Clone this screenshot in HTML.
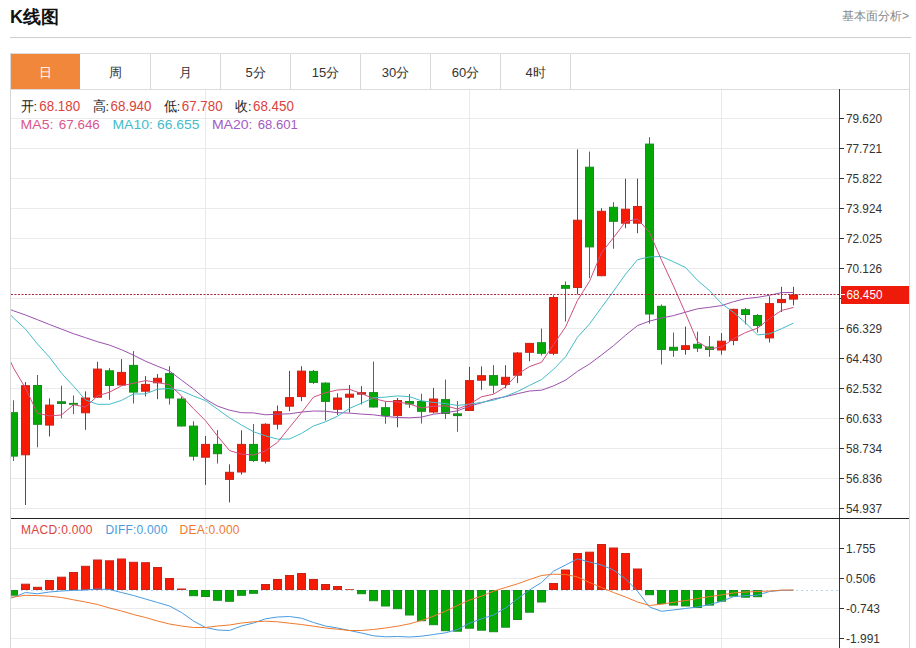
<!DOCTYPE html><html><head><meta charset="utf-8"><style>html,body{margin:0;padding:0;background:#fff;}svg{display:block;}text{font-family:"Liberation Sans", sans-serif;}</style></head><body>
<svg width="916" height="648" viewBox="0 0 916 648">
<defs><clipPath id="cp"><rect x="11" y="90" width="828" height="428"/></clipPath><clipPath id="cm"><rect x="11" y="519" width="828" height="129"/></clipPath></defs>
<text x="10" y="23" font-size="18" font-weight="bold" fill="#111">K线图</text>
<text x="909" y="20" font-size="12" fill="#888" text-anchor="end">基本面分析&gt;</text>
<rect x="10" y="37" width="901" height="1" fill="#CFCFCF"/>
<rect x="10" y="53" width="900" height="1" fill="#DCDCDC"/>
<rect x="10" y="89" width="900" height="1" fill="#DCDCDC"/>
<rect x="11" y="54" width="69" height="35" fill="#F0873A"/>
<text x="45.5" y="77" font-size="13" fill="#fff" text-anchor="middle">日</text>
<text x="115.5" y="77" font-size="13" fill="#333" text-anchor="middle">周</text>
<rect x="150" y="54" width="1" height="35" fill="#D8D8D8"/>
<text x="185.5" y="77" font-size="13" fill="#333" text-anchor="middle">月</text>
<rect x="220" y="54" width="1" height="35" fill="#D8D8D8"/>
<text x="255.5" y="77" font-size="13" fill="#333" text-anchor="middle">5分</text>
<rect x="290" y="54" width="1" height="35" fill="#D8D8D8"/>
<text x="325.5" y="77" font-size="13" fill="#333" text-anchor="middle">15分</text>
<rect x="360" y="54" width="1" height="35" fill="#D8D8D8"/>
<text x="395.5" y="77" font-size="13" fill="#333" text-anchor="middle">30分</text>
<rect x="430" y="54" width="1" height="35" fill="#D8D8D8"/>
<text x="465.5" y="77" font-size="13" fill="#333" text-anchor="middle">60分</text>
<rect x="500" y="54" width="1" height="35" fill="#D8D8D8"/>
<text x="535.5" y="77" font-size="13" fill="#333" text-anchor="middle">4时</text>
<rect x="570" y="54" width="1" height="35" fill="#D8D8D8"/>
<rect x="10" y="53" width="1" height="595" fill="#D8D8D8"/>
<rect x="909" y="53" width="1" height="595" fill="#D8D8D8"/>
<rect x="11" y="118" width="828" height="1" fill="#EBEBEB"/>
<rect x="11" y="148" width="828" height="1" fill="#EBEBEB"/>
<rect x="11" y="178" width="828" height="1" fill="#EBEBEB"/>
<rect x="11" y="208" width="828" height="1" fill="#EBEBEB"/>
<rect x="11" y="238" width="828" height="1" fill="#EBEBEB"/>
<rect x="11" y="268" width="828" height="1" fill="#EBEBEB"/>
<rect x="11" y="298" width="828" height="1" fill="#EBEBEB"/>
<rect x="11" y="328" width="828" height="1" fill="#EBEBEB"/>
<rect x="11" y="358" width="828" height="1" fill="#EBEBEB"/>
<rect x="11" y="388" width="828" height="1" fill="#EBEBEB"/>
<rect x="11" y="418" width="828" height="1" fill="#EBEBEB"/>
<rect x="11" y="448" width="828" height="1" fill="#EBEBEB"/>
<rect x="11" y="478" width="828" height="1" fill="#EBEBEB"/>
<rect x="11" y="508" width="828" height="1" fill="#EBEBEB"/>
<rect x="11" y="548" width="828" height="1" fill="#EBEBEB"/>
<rect x="11" y="578" width="828" height="1" fill="#EBEBEB"/>
<rect x="11" y="608" width="828" height="1" fill="#EBEBEB"/>
<rect x="11" y="638" width="828" height="1" fill="#EBEBEB"/>
<rect x="205" y="90" width="1" height="558" fill="#E6E9EE"/>
<rect x="469" y="90" width="1" height="558" fill="#E6E9EE"/>
<rect x="721" y="90" width="1" height="558" fill="#E6E9EE"/>
<rect x="839" y="89" width="1" height="559" fill="#333"/>
<rect x="11" y="518" width="898" height="1" fill="#222"/>
<rect x="840" y="118" width="4" height="1" fill="#333"/>
<text x="846" y="122.8" font-size="13" fill="#333" textLength="36" lengthAdjust="spacingAndGlyphs">79.620</text>
<rect x="840" y="148" width="4" height="1" fill="#333"/>
<text x="846" y="152.8" font-size="13" fill="#333" textLength="36" lengthAdjust="spacingAndGlyphs">77.721</text>
<rect x="840" y="178" width="4" height="1" fill="#333"/>
<text x="846" y="182.8" font-size="13" fill="#333" textLength="36" lengthAdjust="spacingAndGlyphs">75.822</text>
<rect x="840" y="208" width="4" height="1" fill="#333"/>
<text x="846" y="212.8" font-size="13" fill="#333" textLength="36" lengthAdjust="spacingAndGlyphs">73.924</text>
<rect x="840" y="238" width="4" height="1" fill="#333"/>
<text x="846" y="242.8" font-size="13" fill="#333" textLength="36" lengthAdjust="spacingAndGlyphs">72.025</text>
<rect x="840" y="268" width="4" height="1" fill="#333"/>
<text x="846" y="272.8" font-size="13" fill="#333" textLength="36" lengthAdjust="spacingAndGlyphs">70.126</text>
<rect x="840" y="298" width="4" height="1" fill="#333"/>
<rect x="840" y="328" width="4" height="1" fill="#333"/>
<text x="846" y="332.8" font-size="13" fill="#333" textLength="36" lengthAdjust="spacingAndGlyphs">66.329</text>
<rect x="840" y="358" width="4" height="1" fill="#333"/>
<text x="846" y="362.8" font-size="13" fill="#333" textLength="36" lengthAdjust="spacingAndGlyphs">64.430</text>
<rect x="840" y="388" width="4" height="1" fill="#333"/>
<text x="846" y="392.8" font-size="13" fill="#333" textLength="36" lengthAdjust="spacingAndGlyphs">62.532</text>
<rect x="840" y="418" width="4" height="1" fill="#333"/>
<text x="846" y="422.8" font-size="13" fill="#333" textLength="36" lengthAdjust="spacingAndGlyphs">60.633</text>
<rect x="840" y="448" width="4" height="1" fill="#333"/>
<text x="846" y="452.8" font-size="13" fill="#333" textLength="36" lengthAdjust="spacingAndGlyphs">58.734</text>
<rect x="840" y="478" width="4" height="1" fill="#333"/>
<text x="846" y="482.8" font-size="13" fill="#333" textLength="36" lengthAdjust="spacingAndGlyphs">56.836</text>
<rect x="840" y="508" width="4" height="1" fill="#333"/>
<text x="846" y="512.8" font-size="13" fill="#333" textLength="36" lengthAdjust="spacingAndGlyphs">54.937</text>
<rect x="840" y="548" width="4" height="1" fill="#333"/>
<text x="846" y="552.8" font-size="13" fill="#333" textLength="29.5" lengthAdjust="spacingAndGlyphs">1.755</text>
<rect x="840" y="578" width="4" height="1" fill="#333"/>
<text x="846" y="582.8" font-size="13" fill="#333" textLength="29.5" lengthAdjust="spacingAndGlyphs">0.506</text>
<rect x="840" y="608" width="4" height="1" fill="#333"/>
<text x="846" y="612.8" font-size="13" fill="#333" textLength="34" lengthAdjust="spacingAndGlyphs">-0.743</text>
<rect x="840" y="638" width="4" height="1" fill="#333"/>
<text x="846" y="642.8" font-size="13" fill="#333" textLength="34" lengthAdjust="spacingAndGlyphs">-1.991</text>
<g clip-path="url(#cp)">
<rect x="13" y="400.3" width="1" height="60.7" fill="#1F8C2C"/>
<rect x="9.5" y="412.7" width="8" height="43.4" fill="#03A805" stroke="#12901A" stroke-width="1"/>
<rect x="25" y="382.0" width="1" height="123.0" fill="#B82420"/>
<rect x="21.5" y="385.7" width="8" height="69.1" fill="#F71A04" stroke="#C92418" stroke-width="1"/>
<rect x="37" y="375.0" width="1" height="72.3" fill="#1F8C2C"/>
<rect x="33.5" y="385.5" width="8" height="38.8" fill="#03A805" stroke="#12901A" stroke-width="1"/>
<rect x="49" y="398.4" width="1" height="38.1" fill="#B82420"/>
<rect x="45.5" y="405.1" width="8" height="20.0" fill="#F71A04" stroke="#C92418" stroke-width="1"/>
<rect x="61" y="385.7" width="1" height="32.7" fill="#1F8C2C"/>
<rect x="57" y="401.2" width="9" height="2.8" fill="#12901A"/>
<rect x="73" y="395.5" width="1" height="18.6" fill="#1F8C2C"/>
<rect x="69" y="402.9" width="9" height="1.9" fill="#12901A"/>
<rect x="85" y="391.4" width="1" height="38.4" fill="#B82420"/>
<rect x="81.5" y="398.0" width="8" height="14.8" fill="#F71A04" stroke="#C92418" stroke-width="1"/>
<rect x="97" y="361.8" width="1" height="35.9" fill="#B82420"/>
<rect x="93.5" y="369.1" width="8" height="28.1" fill="#F71A04" stroke="#C92418" stroke-width="1"/>
<rect x="109" y="368.1" width="1" height="31.7" fill="#1F8C2C"/>
<rect x="105.5" y="370.8" width="8" height="14.7" fill="#03A805" stroke="#12901A" stroke-width="1"/>
<rect x="121" y="359.1" width="1" height="26.4" fill="#B82420"/>
<rect x="117.5" y="372.4" width="8" height="12.6" fill="#F71A04" stroke="#C92418" stroke-width="1"/>
<rect x="133" y="351.1" width="1" height="52.4" fill="#1F8C2C"/>
<rect x="129.5" y="365.4" width="8" height="26.7" fill="#03A805" stroke="#12901A" stroke-width="1"/>
<rect x="145" y="376.1" width="1" height="20.3" fill="#B82420"/>
<rect x="141.5" y="384.4" width="8" height="6.8" fill="#F71A04" stroke="#C92418" stroke-width="1"/>
<rect x="157" y="374.1" width="1" height="25.1" fill="#B82420"/>
<rect x="153.5" y="378.3" width="8" height="4.5" fill="#F71A04" stroke="#C92418" stroke-width="1"/>
<rect x="169" y="366.2" width="1" height="38.4" fill="#1F8C2C"/>
<rect x="165.5" y="373.6" width="8" height="24.4" fill="#03A805" stroke="#12901A" stroke-width="1"/>
<rect x="181" y="396.5" width="1" height="30.0" fill="#1F8C2C"/>
<rect x="177.5" y="399.0" width="8" height="27.0" fill="#03A805" stroke="#12901A" stroke-width="1"/>
<rect x="193" y="421.3" width="1" height="39.3" fill="#1F8C2C"/>
<rect x="189.5" y="426.1" width="8" height="30.1" fill="#03A805" stroke="#12901A" stroke-width="1"/>
<rect x="205" y="436.0" width="1" height="48.9" fill="#B82420"/>
<rect x="201.5" y="444.4" width="8" height="12.8" fill="#F71A04" stroke="#C92418" stroke-width="1"/>
<rect x="217" y="430.1" width="1" height="33.4" fill="#1F8C2C"/>
<rect x="213.5" y="444.4" width="8" height="9.3" fill="#03A805" stroke="#12901A" stroke-width="1"/>
<rect x="229" y="464.3" width="1" height="38.1" fill="#B82420"/>
<rect x="225.5" y="472.3" width="8" height="7.1" fill="#F71A04" stroke="#C92418" stroke-width="1"/>
<rect x="241" y="430.3" width="1" height="44.3" fill="#B82420"/>
<rect x="237.5" y="444.4" width="8" height="27.6" fill="#F71A04" stroke="#C92418" stroke-width="1"/>
<rect x="253" y="424.0" width="1" height="38.0" fill="#1F8C2C"/>
<rect x="249.5" y="444.4" width="8" height="16.1" fill="#03A805" stroke="#12901A" stroke-width="1"/>
<rect x="265" y="423.3" width="1" height="40.2" fill="#B82420"/>
<rect x="261.5" y="424.3" width="8" height="36.9" fill="#F71A04" stroke="#C92418" stroke-width="1"/>
<rect x="277" y="405.5" width="1" height="23.9" fill="#B82420"/>
<rect x="273.5" y="411.7" width="8" height="12.5" fill="#F71A04" stroke="#C92418" stroke-width="1"/>
<rect x="289" y="370.9" width="1" height="40.3" fill="#B82420"/>
<rect x="285.5" y="397.6" width="8" height="8.6" fill="#F71A04" stroke="#C92418" stroke-width="1"/>
<rect x="301" y="366.2" width="1" height="34.9" fill="#B82420"/>
<rect x="297.5" y="371.1" width="8" height="25.5" fill="#F71A04" stroke="#C92418" stroke-width="1"/>
<rect x="313" y="369.9" width="1" height="14.0" fill="#1F8C2C"/>
<rect x="309.5" y="371.4" width="8" height="11.0" fill="#03A805" stroke="#12901A" stroke-width="1"/>
<rect x="325" y="382.4" width="1" height="38.2" fill="#1F8C2C"/>
<rect x="321.5" y="383.1" width="8" height="18.3" fill="#03A805" stroke="#12901A" stroke-width="1"/>
<rect x="337" y="393.3" width="1" height="21.7" fill="#B82420"/>
<rect x="333.5" y="398.0" width="8" height="11.3" fill="#F71A04" stroke="#C92418" stroke-width="1"/>
<rect x="349" y="385.0" width="1" height="27.5" fill="#B82420"/>
<rect x="345.5" y="394.2" width="8" height="3.0" fill="#F71A04" stroke="#C92418" stroke-width="1"/>
<rect x="361" y="386.1" width="1" height="18.4" fill="#B82420"/>
<rect x="357" y="392.1" width="9" height="2.6" fill="#C92418"/>
<rect x="373" y="361.5" width="1" height="46.0" fill="#1F8C2C"/>
<rect x="369.5" y="392.6" width="8" height="14.4" fill="#03A805" stroke="#12901A" stroke-width="1"/>
<rect x="385" y="401.6" width="1" height="22.2" fill="#1F8C2C"/>
<rect x="381.5" y="407.7" width="8" height="7.9" fill="#03A805" stroke="#12901A" stroke-width="1"/>
<rect x="397" y="398.0" width="1" height="29.3" fill="#B82420"/>
<rect x="393.5" y="400.5" width="8" height="15.1" fill="#F71A04" stroke="#C92418" stroke-width="1"/>
<rect x="409" y="394.0" width="1" height="13.9" fill="#1F8C2C"/>
<rect x="405.5" y="401.5" width="8" height="2.5" fill="#03A805" stroke="#12901A" stroke-width="1"/>
<rect x="421" y="393.7" width="1" height="29.8" fill="#1F8C2C"/>
<rect x="417.5" y="401.5" width="8" height="9.8" fill="#03A805" stroke="#12901A" stroke-width="1"/>
<rect x="433" y="388.0" width="1" height="25.5" fill="#B82420"/>
<rect x="429.5" y="399.0" width="8" height="13.0" fill="#F71A04" stroke="#C92418" stroke-width="1"/>
<rect x="445" y="379.6" width="1" height="39.3" fill="#1F8C2C"/>
<rect x="441.5" y="399.6" width="8" height="13.9" fill="#03A805" stroke="#12901A" stroke-width="1"/>
<rect x="457" y="401.0" width="1" height="30.8" fill="#1F8C2C"/>
<rect x="453" y="413.3" width="9" height="2.8" fill="#12901A"/>
<rect x="469" y="366.8" width="1" height="44.2" fill="#B82420"/>
<rect x="465.5" y="380.6" width="8" height="29.9" fill="#F71A04" stroke="#C92418" stroke-width="1"/>
<rect x="481" y="366.4" width="1" height="23.4" fill="#B82420"/>
<rect x="477.5" y="375.7" width="8" height="4.5" fill="#F71A04" stroke="#C92418" stroke-width="1"/>
<rect x="493" y="365.2" width="1" height="28.3" fill="#1F8C2C"/>
<rect x="489.5" y="375.6" width="8" height="9.6" fill="#03A805" stroke="#12901A" stroke-width="1"/>
<rect x="505" y="365.2" width="1" height="23.1" fill="#B82420"/>
<rect x="501.5" y="377.3" width="8" height="7.1" fill="#F71A04" stroke="#C92418" stroke-width="1"/>
<rect x="517" y="352.1" width="1" height="31.0" fill="#B82420"/>
<rect x="513.5" y="353.0" width="8" height="22.2" fill="#F71A04" stroke="#C92418" stroke-width="1"/>
<rect x="529" y="342.9" width="1" height="18.3" fill="#B82420"/>
<rect x="525.5" y="343.4" width="8" height="8.9" fill="#F71A04" stroke="#C92418" stroke-width="1"/>
<rect x="541" y="328.5" width="1" height="27.0" fill="#1F8C2C"/>
<rect x="537.5" y="342.7" width="8" height="10.6" fill="#03A805" stroke="#12901A" stroke-width="1"/>
<rect x="553" y="295.3" width="1" height="59.9" fill="#B82420"/>
<rect x="549.5" y="297.5" width="8" height="55.8" fill="#F71A04" stroke="#C92418" stroke-width="1"/>
<rect x="565" y="281.4" width="1" height="40.1" fill="#1F8C2C"/>
<rect x="561.5" y="285.5" width="8" height="2.8" fill="#03A805" stroke="#12901A" stroke-width="1"/>
<rect x="577" y="149.4" width="1" height="145.0" fill="#B82420"/>
<rect x="573.5" y="220.2" width="8" height="67.3" fill="#F71A04" stroke="#C92418" stroke-width="1"/>
<rect x="589" y="151.6" width="1" height="126.5" fill="#1F8C2C"/>
<rect x="585.5" y="167.2" width="8" height="79.7" fill="#03A805" stroke="#12901A" stroke-width="1"/>
<rect x="601" y="208.2" width="1" height="68.0" fill="#B82420"/>
<rect x="597.5" y="211.3" width="8" height="64.4" fill="#F71A04" stroke="#C92418" stroke-width="1"/>
<rect x="613" y="202.2" width="1" height="46.6" fill="#1F8C2C"/>
<rect x="609.5" y="207.3" width="8" height="14.0" fill="#03A805" stroke="#12901A" stroke-width="1"/>
<rect x="625" y="178.7" width="1" height="49.5" fill="#B82420"/>
<rect x="621.5" y="209.2" width="8" height="14.0" fill="#F71A04" stroke="#C92418" stroke-width="1"/>
<rect x="637" y="178.7" width="1" height="54.5" fill="#B82420"/>
<rect x="633.5" y="206.5" width="8" height="16.7" fill="#F71A04" stroke="#C92418" stroke-width="1"/>
<rect x="649" y="137.2" width="1" height="186.4" fill="#1F8C2C"/>
<rect x="645.5" y="144.1" width="8" height="169.9" fill="#03A805" stroke="#12901A" stroke-width="1"/>
<rect x="661" y="304.5" width="1" height="60.0" fill="#1F8C2C"/>
<rect x="657.5" y="306.3" width="8" height="43.1" fill="#03A805" stroke="#12901A" stroke-width="1"/>
<rect x="673" y="332.5" width="1" height="24.3" fill="#1F8C2C"/>
<rect x="669.5" y="347.3" width="8" height="2.9" fill="#03A805" stroke="#12901A" stroke-width="1"/>
<rect x="685" y="326.6" width="1" height="28.1" fill="#B82420"/>
<rect x="681.5" y="345.7" width="8" height="3.8" fill="#F71A04" stroke="#C92418" stroke-width="1"/>
<rect x="697" y="331.7" width="1" height="20.3" fill="#1F8C2C"/>
<rect x="693.5" y="344.3" width="8" height="3.8" fill="#03A805" stroke="#12901A" stroke-width="1"/>
<rect x="709" y="336.0" width="1" height="20.8" fill="#1F8C2C"/>
<rect x="705.5" y="347.0" width="8" height="2.5" fill="#03A805" stroke="#12901A" stroke-width="1"/>
<rect x="721" y="333.1" width="1" height="21.6" fill="#B82420"/>
<rect x="717.5" y="341.2" width="8" height="8.8" fill="#F71A04" stroke="#C92418" stroke-width="1"/>
<rect x="733" y="308.8" width="1" height="36.4" fill="#B82420"/>
<rect x="729.5" y="309.3" width="8" height="31.1" fill="#F71A04" stroke="#C92418" stroke-width="1"/>
<rect x="745" y="308.1" width="1" height="16.4" fill="#1F8C2C"/>
<rect x="741.5" y="309.7" width="8" height="4.8" fill="#03A805" stroke="#12901A" stroke-width="1"/>
<rect x="757" y="314.1" width="1" height="18.5" fill="#1F8C2C"/>
<rect x="753.5" y="315.5" width="8" height="10.0" fill="#03A805" stroke="#12901A" stroke-width="1"/>
<rect x="769" y="296.3" width="1" height="46.2" fill="#B82420"/>
<rect x="765.5" y="303.6" width="8" height="34.3" fill="#F71A04" stroke="#C92418" stroke-width="1"/>
<rect x="781" y="286.8" width="1" height="25.2" fill="#B82420"/>
<rect x="777.5" y="299.5" width="8" height="3.1" fill="#F71A04" stroke="#C92418" stroke-width="1"/>
<rect x="793" y="286.8" width="1" height="18.5" fill="#B82420"/>
<rect x="789.5" y="294.9" width="8" height="4.2" fill="#F71A04" stroke="#C92418" stroke-width="1"/>
<path d="M1.5,306.0 L13.5,310.8 L25.5,315.0 L37.5,319.7 L49.5,324.5 L61.5,329.1 L73.5,333.7 L85.5,337.7 L97.5,341.7 L109.5,345.1 L121.5,349.7 L133.5,355.2 L145.5,361.2 L157.5,366.2 L169.5,371.0 L181.5,380.1 L193.5,389.1 L205.5,399.1 L217.5,406.1 L229.5,410.2 L241.5,412.7 L253.5,412.9 L265.5,414.8 L277.5,414.2 L289.5,413.8 L301.5,412.1 L313.5,411.0 L325.5,411.2 L337.5,412.7 L349.5,413.1 L361.5,414.1 L373.5,414.8 L385.5,416.4 L397.5,417.5 L409.5,417.8 L421.5,417.1 L433.5,414.2 L445.5,412.7 L457.5,410.8 L469.5,406.2 L481.5,402.8 L493.5,399.0 L505.5,396.7 L517.5,393.7 L529.5,391.0 L541.5,390.2 L553.5,385.9 L565.5,380.2 L577.5,371.3 L589.5,364.0 L601.5,355.0 L613.5,345.7 L625.5,335.3 L637.5,325.6 L649.5,321.1 L661.5,318.0 L673.5,315.6 L685.5,312.2 L697.5,308.8 L709.5,307.3 L721.5,305.6 L733.5,301.7 L745.5,298.6 L757.5,297.3 L769.5,295.3 L781.5,292.6 L793.5,292.5" fill="none" stroke="#9A52AC" stroke-width="1"/>
<path d="M1.5,305.0 L13.5,318.0 L25.5,329.1 L37.5,344.1 L49.5,357.2 L61.5,373.2 L73.5,386.2 L85.5,399.9 L97.5,404.3 L109.5,404.3 L121.5,400.4 L133.5,394.0 L145.5,393.9 L157.5,389.2 L169.5,388.6 L181.5,390.8 L193.5,396.0 L205.5,400.6 L217.5,409.2 L229.5,417.8 L241.5,425.0 L253.5,431.8 L265.5,435.8 L277.5,439.1 L289.5,439.0 L301.5,433.4 L313.5,426.0 L325.5,421.8 L337.5,416.2 L349.5,408.4 L361.5,403.2 L373.5,397.8 L385.5,397.1 L397.5,395.9 L409.5,396.7 L421.5,400.8 L433.5,402.4 L445.5,403.6 L457.5,405.4 L469.5,404.1 L481.5,402.4 L493.5,400.2 L505.5,396.3 L517.5,391.5 L529.5,385.4 L541.5,379.6 L553.5,369.4 L565.5,356.9 L577.5,337.2 L589.5,324.0 L601.5,307.5 L613.5,291.1 L625.5,274.3 L637.5,259.7 L649.5,256.9 L661.5,256.5 L673.5,261.8 L685.5,267.5 L697.5,280.4 L709.5,290.6 L721.5,303.6 L733.5,312.3 L745.5,322.9 L757.5,334.9 L769.5,333.8 L781.5,328.7 L793.5,323.1" fill="none" stroke="#45BCC8" stroke-width="1"/>
<path d="M1.5,341.6 L13.5,368.0 L25.5,388.2 L37.5,413.3 L49.5,415.9 L61.5,415.0 L73.5,404.7 L85.5,407.1 L97.5,395.9 L109.5,392.2 L121.5,385.8 L133.5,383.3 L145.5,380.6 L157.5,382.4 L169.5,384.9 L181.5,395.9 L193.5,408.7 L205.5,420.7 L217.5,436.0 L229.5,450.6 L241.5,454.1 L253.5,455.0 L265.5,450.9 L277.5,442.3 L289.5,427.4 L301.5,412.7 L313.5,397.1 L325.5,392.7 L337.5,390.0 L349.5,389.3 L361.5,393.6 L373.5,398.5 L385.5,401.4 L397.5,401.9 L409.5,404.0 L421.5,408.0 L433.5,406.2 L445.5,405.8 L457.5,409.0 L469.5,404.1 L481.5,396.8 L493.5,394.2 L505.5,386.8 L517.5,374.1 L529.5,366.6 L541.5,362.3 L553.5,344.6 L565.5,327.0 L577.5,300.4 L589.5,281.3 L601.5,252.7 L613.5,237.7 L625.5,221.7 L637.5,218.9 L649.5,232.4 L661.5,260.2 L673.5,286.0 L685.5,313.3 L697.5,341.8 L709.5,348.9 L721.5,347.0 L733.5,338.7 L745.5,332.6 L757.5,328.1 L769.5,318.7 L781.5,310.4 L793.5,307.5" fill="none" stroke="#CF5080" stroke-width="1"/>
</g>
<line x1="11" y1="294.5" x2="839" y2="294.5" stroke="#A8283A" stroke-width="1" stroke-dasharray="2,1.5"/>
<rect x="841" y="286" width="68" height="18" fill="#EE1A0A"/>
<rect x="841" y="294" width="4" height="1" fill="#fff"/>
<text x="846.5" y="299" font-size="13" fill="#fff" textLength="36" lengthAdjust="spacingAndGlyphs">68.450</text>
<text x="20.5" y="110.8" font-size="13.5" fill="#222" textLength="16.5" lengthAdjust="spacingAndGlyphs">开:</text><text x="39.3" y="110.8" font-size="14" fill="#D9433E" textLength="40.8" lengthAdjust="spacingAndGlyphs">68.180</text><text x="92.5" y="110.8" font-size="13.5" fill="#222" textLength="16.5" lengthAdjust="spacingAndGlyphs">高:</text><text x="110.6" y="110.8" font-size="14" fill="#D9433E" textLength="40.8" lengthAdjust="spacingAndGlyphs">68.940</text><text x="163.8" y="110.8" font-size="13.5" fill="#222" textLength="16.5" lengthAdjust="spacingAndGlyphs">低:</text><text x="181.8" y="110.8" font-size="14" fill="#D9433E" textLength="40.8" lengthAdjust="spacingAndGlyphs">67.780</text><text x="235" y="110.8" font-size="13.5" fill="#222" textLength="16.5" lengthAdjust="spacingAndGlyphs">收:</text><text x="253" y="110.8" font-size="14" fill="#D9433E" textLength="40.8" lengthAdjust="spacingAndGlyphs">68.450</text><text x="20.6" y="128.8" font-size="13.5" fill="#D9578C" textLength="32.8" lengthAdjust="spacingAndGlyphs">MA5:</text><text x="58.8" y="128.8" font-size="13.5" fill="#D9578C" textLength="41" lengthAdjust="spacingAndGlyphs">67.646</text><text x="112.4" y="128.8" font-size="13.5" fill="#45BCC8" textLength="40.5" lengthAdjust="spacingAndGlyphs">MA10:</text><text x="157.1" y="128.8" font-size="13.5" fill="#45BCC8" textLength="42.3" lengthAdjust="spacingAndGlyphs">66.655</text><text x="211.9" y="128.8" font-size="13.5" fill="#A35BC4" textLength="40.5" lengthAdjust="spacingAndGlyphs">MA20:</text><text x="257.7" y="128.8" font-size="13.5" fill="#A35BC4" textLength="40.1" lengthAdjust="spacingAndGlyphs">68.601</text>
<line x1="11" y1="590.5" x2="839" y2="590.5" stroke="#B5D5F0" stroke-width="1" stroke-dasharray="2,3"/>
<g clip-path="url(#cm)">
<rect x="9.5" y="590.5" width="8" height="4.7" fill="#03A805" stroke="#12901A" stroke-width="1"/>
<rect x="21.5" y="584.2" width="8" height="5.3" fill="#F71A04" stroke="#C92418" stroke-width="1"/>
<rect x="33.5" y="587.3" width="8" height="2.2" fill="#F71A04" stroke="#C92418" stroke-width="1"/>
<rect x="45.5" y="580.5" width="8" height="9.0" fill="#F71A04" stroke="#C92418" stroke-width="1"/>
<rect x="57.5" y="577.2" width="8" height="12.3" fill="#F71A04" stroke="#C92418" stroke-width="1"/>
<rect x="69.5" y="572.5" width="8" height="17.0" fill="#F71A04" stroke="#C92418" stroke-width="1"/>
<rect x="81.5" y="566.3" width="8" height="23.2" fill="#F71A04" stroke="#C92418" stroke-width="1"/>
<rect x="93.5" y="560.0" width="8" height="29.5" fill="#F71A04" stroke="#C92418" stroke-width="1"/>
<rect x="105.5" y="560.8" width="8" height="28.7" fill="#F71A04" stroke="#C92418" stroke-width="1"/>
<rect x="117.5" y="559.0" width="8" height="30.5" fill="#F71A04" stroke="#C92418" stroke-width="1"/>
<rect x="129.5" y="562.3" width="8" height="27.2" fill="#F71A04" stroke="#C92418" stroke-width="1"/>
<rect x="141.5" y="562.7" width="8" height="26.8" fill="#F71A04" stroke="#C92418" stroke-width="1"/>
<rect x="153.5" y="567.5" width="8" height="22.0" fill="#F71A04" stroke="#C92418" stroke-width="1"/>
<rect x="165.5" y="578.5" width="8" height="11.0" fill="#F71A04" stroke="#C92418" stroke-width="1"/>
<rect x="177" y="588.5" width="9" height="1.5" fill="#C92418"/>
<rect x="189.5" y="590.5" width="8" height="5.2" fill="#03A805" stroke="#12901A" stroke-width="1"/>
<rect x="201.5" y="590.5" width="8" height="6.0" fill="#03A805" stroke="#12901A" stroke-width="1"/>
<rect x="213.5" y="590.5" width="8" height="9.8" fill="#03A805" stroke="#12901A" stroke-width="1"/>
<rect x="225.5" y="590.5" width="8" height="10.8" fill="#03A805" stroke="#12901A" stroke-width="1"/>
<rect x="237.5" y="590.5" width="8" height="4.8" fill="#03A805" stroke="#12901A" stroke-width="1"/>
<rect x="249.5" y="590.5" width="8" height="2.8" fill="#03A805" stroke="#12901A" stroke-width="1"/>
<rect x="261.5" y="584.5" width="8" height="5.0" fill="#F71A04" stroke="#C92418" stroke-width="1"/>
<rect x="273.5" y="579.5" width="8" height="10.0" fill="#F71A04" stroke="#C92418" stroke-width="1"/>
<rect x="285.5" y="575.5" width="8" height="14.0" fill="#F71A04" stroke="#C92418" stroke-width="1"/>
<rect x="297.5" y="573.5" width="8" height="16.0" fill="#F71A04" stroke="#C92418" stroke-width="1"/>
<rect x="309.5" y="579.5" width="8" height="10.0" fill="#F71A04" stroke="#C92418" stroke-width="1"/>
<rect x="321.5" y="584.5" width="8" height="5.0" fill="#F71A04" stroke="#C92418" stroke-width="1"/>
<rect x="333.5" y="586.5" width="8" height="3.0" fill="#F71A04" stroke="#C92418" stroke-width="1"/>
<rect x="345" y="589.2" width="9" height="0.8" fill="#C92418"/>
<rect x="357.5" y="590.5" width="8" height="3.2" fill="#03A805" stroke="#12901A" stroke-width="1"/>
<rect x="369.5" y="590.5" width="8" height="10.2" fill="#03A805" stroke="#12901A" stroke-width="1"/>
<rect x="381.5" y="590.5" width="8" height="15.5" fill="#03A805" stroke="#12901A" stroke-width="1"/>
<rect x="393.5" y="590.5" width="8" height="18.2" fill="#03A805" stroke="#12901A" stroke-width="1"/>
<rect x="405.5" y="590.5" width="8" height="24.5" fill="#03A805" stroke="#12901A" stroke-width="1"/>
<rect x="417.5" y="590.5" width="8" height="30.2" fill="#03A805" stroke="#12901A" stroke-width="1"/>
<rect x="429.5" y="590.5" width="8" height="34.2" fill="#03A805" stroke="#12901A" stroke-width="1"/>
<rect x="441.5" y="590.5" width="8" height="40.2" fill="#03A805" stroke="#12901A" stroke-width="1"/>
<rect x="453.5" y="590.5" width="8" height="40.7" fill="#03A805" stroke="#12901A" stroke-width="1"/>
<rect x="465.5" y="590.5" width="8" height="37.7" fill="#03A805" stroke="#12901A" stroke-width="1"/>
<rect x="477.5" y="590.5" width="8" height="39.7" fill="#03A805" stroke="#12901A" stroke-width="1"/>
<rect x="489.5" y="590.5" width="8" height="41.2" fill="#03A805" stroke="#12901A" stroke-width="1"/>
<rect x="501.5" y="590.5" width="8" height="36.7" fill="#03A805" stroke="#12901A" stroke-width="1"/>
<rect x="513.5" y="590.5" width="8" height="29.0" fill="#03A805" stroke="#12901A" stroke-width="1"/>
<rect x="525.5" y="590.5" width="8" height="21.7" fill="#03A805" stroke="#12901A" stroke-width="1"/>
<rect x="537.5" y="590.5" width="8" height="11.5" fill="#03A805" stroke="#12901A" stroke-width="1"/>
<rect x="549.5" y="583.5" width="8" height="6.0" fill="#F71A04" stroke="#C92418" stroke-width="1"/>
<rect x="561.5" y="570.0" width="8" height="19.5" fill="#F71A04" stroke="#C92418" stroke-width="1"/>
<rect x="573.5" y="553.5" width="8" height="36.0" fill="#F71A04" stroke="#C92418" stroke-width="1"/>
<rect x="585.5" y="552.2" width="8" height="37.3" fill="#F71A04" stroke="#C92418" stroke-width="1"/>
<rect x="597.5" y="544.5" width="8" height="45.0" fill="#F71A04" stroke="#C92418" stroke-width="1"/>
<rect x="609.5" y="548.0" width="8" height="41.5" fill="#F71A04" stroke="#C92418" stroke-width="1"/>
<rect x="621.5" y="553.5" width="8" height="36.0" fill="#F71A04" stroke="#C92418" stroke-width="1"/>
<rect x="633.5" y="569.0" width="8" height="20.5" fill="#F71A04" stroke="#C92418" stroke-width="1"/>
<rect x="645.5" y="590.5" width="8" height="4.2" fill="#03A805" stroke="#12901A" stroke-width="1"/>
<rect x="657.5" y="590.5" width="8" height="13.1" fill="#03A805" stroke="#12901A" stroke-width="1"/>
<rect x="669.5" y="590.5" width="8" height="14.6" fill="#03A805" stroke="#12901A" stroke-width="1"/>
<rect x="681.5" y="590.5" width="8" height="15.5" fill="#03A805" stroke="#12901A" stroke-width="1"/>
<rect x="693.5" y="590.5" width="8" height="17.0" fill="#03A805" stroke="#12901A" stroke-width="1"/>
<rect x="705.5" y="590.5" width="8" height="14.6" fill="#03A805" stroke="#12901A" stroke-width="1"/>
<rect x="717.5" y="590.5" width="8" height="10.7" fill="#03A805" stroke="#12901A" stroke-width="1"/>
<rect x="729.5" y="590.5" width="8" height="5.6" fill="#03A805" stroke="#12901A" stroke-width="1"/>
<rect x="741.5" y="590.5" width="8" height="6.7" fill="#03A805" stroke="#12901A" stroke-width="1"/>
<rect x="753.5" y="590.5" width="8" height="6.2" fill="#03A805" stroke="#12901A" stroke-width="1"/>
<path d="M1.5,600.0 L13.5,597.4 L25.5,592.5 L37.5,593.8 L49.5,592.0 L61.5,591.0 L73.5,590.4 L85.5,590.0 L97.5,589.0 L109.5,589.5 L121.5,592.5 L133.5,595.5 L145.5,599.0 L157.5,602.5 L169.5,606.0 L181.5,612.5 L193.5,621.0 L205.5,627.5 L217.5,630.0 L229.5,630.5 L241.5,626.0 L253.5,623.0 L265.5,618.8 L277.5,617.0 L289.5,616.5 L301.5,618.2 L313.5,622.5 L325.5,626.0 L337.5,628.0 L349.5,630.5 L361.5,633.0 L373.5,635.8 L385.5,636.8 L397.5,636.5 L409.5,637.0 L421.5,636.2 L433.5,634.5 L445.5,632.8 L457.5,629.5 L469.5,623.2 L481.5,618.8 L493.5,615.0 L505.5,608.0 L517.5,598.8 L529.5,590.0 L541.5,582.5 L553.5,571.2 L565.5,565.0 L577.5,558.8 L589.5,562.0 L601.5,565.0 L613.5,570.0 L625.5,578.8 L637.5,591.2 L649.5,607.0 L661.5,611.3 L673.5,609.9 L685.5,608.5 L697.5,607.0 L709.5,604.5 L721.5,601.4 L733.5,596.6 L745.5,595.7 L757.5,595.2 L769.5,591.5 L781.5,590.4 L793.5,590.1" fill="none" stroke="#4A9BE0" stroke-width="1"/>
<path d="M1.5,597.0 L13.5,597.0 L25.5,595.3 L37.5,595.6 L49.5,596.2 L61.5,597.5 L73.5,599.8 L85.5,602.0 L97.5,604.5 L109.5,608.0 L121.5,611.0 L133.5,614.5 L145.5,617.5 L157.5,621.0 L169.5,624.0 L181.5,626.0 L193.5,627.5 L205.5,627.5 L217.5,626.0 L229.5,625.0 L241.5,623.0 L253.5,621.8 L265.5,621.2 L277.5,621.8 L289.5,623.2 L301.5,624.5 L313.5,626.2 L325.5,628.0 L337.5,629.2 L349.5,630.5 L361.5,630.5 L373.5,629.5 L385.5,628.0 L397.5,626.2 L409.5,623.8 L421.5,620.5 L433.5,616.2 L445.5,611.2 L457.5,605.5 L469.5,600.0 L481.5,596.2 L493.5,591.2 L505.5,587.5 L517.5,583.8 L529.5,579.5 L541.5,575.5 L553.5,574.2 L565.5,574.5 L577.5,577.0 L589.5,582.5 L601.5,587.5 L613.5,592.5 L625.5,597.0 L637.5,602.0 L649.5,605.5 L661.5,604.2 L673.5,602.3 L685.5,600.6 L697.5,598.6 L709.5,596.6 L721.5,594.9 L733.5,592.9 L745.5,592.0 L757.5,591.5 L769.5,591.0 L781.5,590.1 L793.5,590.1" fill="none" stroke="#EE7A30" stroke-width="1"/>
</g>
<text x="21" y="534" font-size="12" fill="#D9433E" letter-spacing="0.3">MACD:0.000</text>
<text x="105.5" y="534" font-size="12" fill="#4A9BE0" letter-spacing="0.2">DIFF:0.000</text>
<text x="179.5" y="534" font-size="12" fill="#EE7A30" letter-spacing="0.25">DEA:0.000</text>
</svg></body></html>
